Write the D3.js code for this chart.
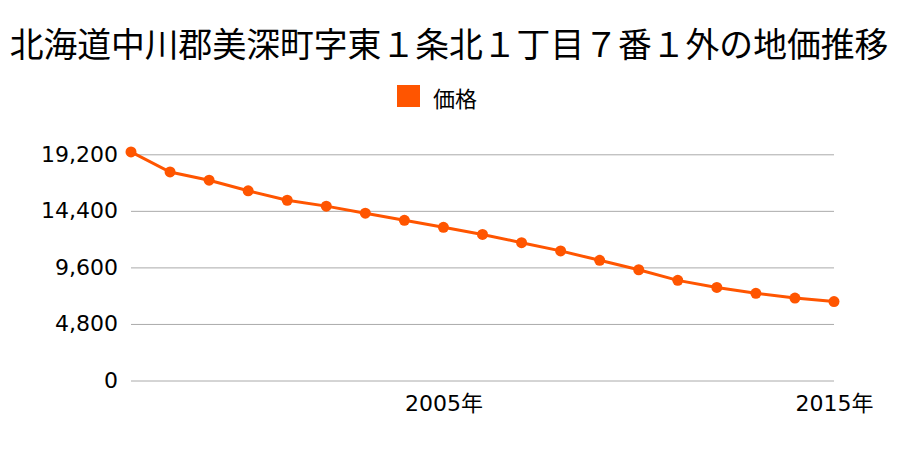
<!DOCTYPE html>
<html><head><meta charset="utf-8">
<script src="https://cdn.jsdelivr.net/npm/d3@7"></script>
<style>
html,body{margin:0;padding:0;background:#fff;}
text{font-family:"Noto Sans CJK JP","Noto Sans",sans-serif;fill:#000;}
.num{font-family:"DejaVu Sans","Noto Sans CJK JP",sans-serif;}
</style></head>
<body><svg id="c" width="900" height="450"></svg>
<script>
const title = "北海道中川郡美深町字東１条北１丁目７番１外の地価推移";
const seriesName = "価格";
const years = [1997,1998,1999,2000,2001,2002,2003,2004,2005,2006,2007,2008,2009,2010,2011,2012,2013,2014,2015];
const prices = [19400,17700,17000,16100,15300,14800,14200,13600,13000,12400,11700,11000,10200,9400,8500,7900,7400,7000,6700];
const yTicks = [0,4800,9600,14400,19200];
const xTickYears = [2005,2015];
const color = "#ff5500";

const svg = d3.select("#c");
const x = d3.scaleLinear().domain([1997,2015]).range([131,834]);
const y = d3.scaleLinear().domain([0,19200]).range([380.5,154.3]);

svg.append("text").attr("x",449).attr("y",42).attr("text-anchor","middle")
  .attr("dominant-baseline","central").style("font-size","33.8px").text(title);

svg.append("rect").attr("x",397).attr("y",85).attr("width",23).attr("height",22).attr("fill",color);
svg.append("text").attr("x",433).attr("y",97).attr("dominant-baseline","central")
  .style("font-size","22px").text(seriesName);

const yAxis = d3.axisLeft(y).tickValues(yTicks).tickSize(-(834-131)).tickPadding(13)
  .tickFormat(d3.format(","));
const gy = svg.append("g").attr("transform","translate(131,0)").call(yAxis);
gy.select(".domain").remove();
gy.selectAll(".tick line").attr("stroke","#aaa").attr("stroke-width",1);
gy.selectAll(".tick text").attr("class","num").style("font-size","22px").attr("fill","#000");

const xAxis = d3.axisBottom(x).tickValues(xTickYears).tickSize(0).tickPadding(15)
  .tickFormat(d => d + "年");
const gx = svg.append("g").attr("transform","translate(0,380.5)").call(xAxis);
gx.select(".domain").remove();
gx.selectAll(".tick text").attr("class","num").style("font-size","22px").attr("fill","#000");

const data = years.map((yr,i)=>({yr, v:prices[i]}));
svg.append("path").datum(data).attr("fill","none").attr("stroke",color).attr("stroke-width",3)
  .attr("d", d3.line().x(d=>x(d.yr)).y(d=>y(d.v)));
svg.selectAll("circle.pt").data(data).enter().append("circle").attr("class","pt")
  .attr("cx",d=>x(d.yr)).attr("cy",d=>y(d.v)).attr("r",5.5).attr("fill",color);
</script></body></html>
